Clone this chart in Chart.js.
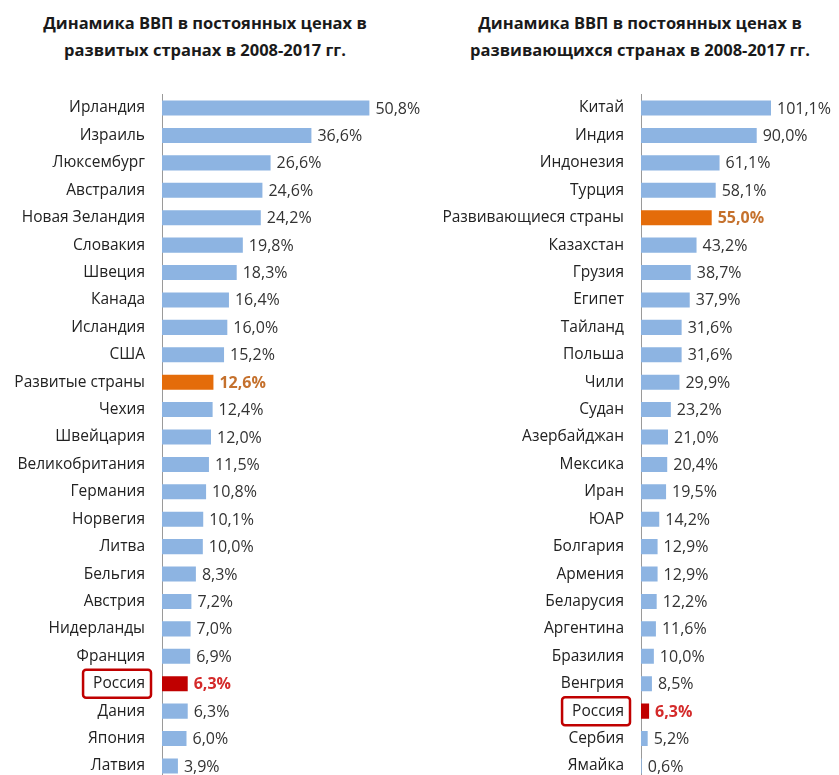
<!DOCTYPE html>
<html lang="ru">
<head>
<meta charset="utf-8">
<title>Динамика ВВП 2008-2017</title>
<script src="https://cdn.jsdelivr.net/npm/chart.js@4.4.1/dist/chart.umd.min.js"></script>
<style>
  html, body { margin: 0; padding: 0; background: #fff; overflow: hidden; }
  body { width: 839px; height: 775px; position: relative; font-family: "Open Sans", sans-serif; }
  .title { position: absolute; top: 9px; font-weight: bold; font-size: 16.5px; line-height: 27px; color: #1a1a1a; text-align: center; }
  #titleLeft { left: 0; width: 410px; }
  #titleRight { left: 430px; width: 420px; }
  /* the y axis adds label padding above and below the plot area, so the boxes start higher */
  .box { position: absolute; top: 68px; height: 738px; }
  #boxLeft { left: 0; width: 420px; }
  #boxRight { left: 420px; width: 419px; }
</style>
</head>
<body>
<div class="title" id="titleLeft">Динамика ВВП в постоянных ценах в<br>развитых странах в 2008-2017 гг.</div>
<div class="title" id="titleRight">Динамика ВВП в постоянных ценах в<br>развивающихся странах в 2008-2017 гг.</div>
<div class="box" id="boxLeft"><canvas id="chartLeft"></canvas></div>
<div class="box" id="boxRight"><canvas id="chartRight"></canvas></div>
<script>
var developedLabels = ['Ирландия', 'Израиль', 'Люксембург', 'Австралия', 'Новая Зеландия', 'Словакия', 'Швеция',
  'Канада', 'Исландия', 'США', 'Развитые страны', 'Чехия', 'Швейцария', 'Великобритания', 'Германия', 'Норвегия',
  'Литва', 'Бельгия', 'Австрия', 'Нидерланды', 'Франция', 'Россия', 'Дания', 'Япония', 'Латвия'];
var developedValues = [50.8, 36.6, 26.6, 24.6, 24.2, 19.8, 18.3, 16.4, 16.0, 15.2, 12.6, 12.4, 12.0, 11.5, 10.8, 10.1,
  10.0, 8.3, 7.2, 7.0, 6.9, 6.3, 6.3, 6.0, 3.9];

var developingLabels = ['Китай', 'Индия', 'Индонезия', 'Турция', 'Развивающиеся страны', 'Казахстан', 'Грузия',
  'Египет', 'Тайланд', 'Польша', 'Чили', 'Судан', 'Азербайджан', 'Мексика', 'Иран', 'ЮАР', 'Болгария', 'Армения',
  'Беларусия', 'Аргентина', 'Бразилия', 'Венгрия', 'Россия', 'Сербия', 'Ямайка'];
var developingValues = [101.1, 90.0, 61.1, 58.1, 55.0, 43.2, 38.7, 37.9, 31.6, 31.6, 29.9, 23.2, 21.0, 20.4, 19.5, 14.2,
  12.9, 12.9, 12.2, 11.6, 10.0, 8.5, 6.3, 5.2, 0.6];

var BLUE = '#8db4e2';
var ORANGE = '#e46c0a';
var RED = '#c00000';
var FONT = '"Open Sans", sans-serif';

function fmt(v) {
  return v.toFixed(1).replace('.', ',') + '%';
}

function barColors(labels, groupName) {
  return labels.map(function(l) {
    if (l === 'Россия') return RED;
    if (l === groupName) return ORANGE;
    return BLUE;
  });
}

// value labels at the end of each bar + red frame round "Россия"
var labelPlugin = {
  id: 'valueLabels',
  afterDatasetsDraw: function(chart, args, opts) {
    var ctx = chart.ctx;
    var meta = chart.getDatasetMeta(0);
    var labels = chart.data.labels;
    var values = chart.data.datasets[0].data;
    ctx.save();
    ctx.textBaseline = 'middle';
    ctx.textAlign = 'left';
    meta.data.forEach(function(bar, i) {
      var name = labels[i];
      var color = '#333';
      var weight = 'normal';
      if (name === 'Россия') { color = '#d42a2a'; weight = 'bold'; }
      else if (name === opts.group) { color = '#c5712d'; weight = 'bold'; }
      ctx.font = weight + ' 16px ' + FONT;
      ctx.fillStyle = color;
      ctx.fillText(fmt(values[i]), bar.x + 6, bar.y + 1);
    });

    var yScale = chart.scales.y;
    var idx = labels.indexOf('Россия');
    if (idx >= 0) {
      ctx.font = '15.5px ' + FONT;
      var w = ctx.measureText('Россия').width;
      var yc = yScale.getPixelForValue(idx);
      var right = yScale.right - 11;
      var left = right - w - 16;
      ctx.strokeStyle = RED;
      ctx.lineWidth = 2.5;
      ctx.beginPath();
      ctx.roundRect(left, yc - 14, right - left, 28, 3);
      ctx.stroke();
    }
    ctx.restore();
  }
};

function makeChart(id, labels, values, groupName, axisWidth, xMax) {
  return new Chart(document.getElementById(id), {
    type: 'bar',
    data: {
      labels: labels,
      datasets: [{
        data: values,
        backgroundColor: barColors(labels, groupName),
        borderWidth: 0,
        barPercentage: 0.55,
        categoryPercentage: 1
      }]
    },
    options: {
      indexAxis: 'y',
      responsive: true,
      maintainAspectRatio: false,
      animation: false,
      layout: { padding: 0 },
      plugins: {
        legend: { display: false },
        tooltip: { enabled: false },
        valueLabels: { group: groupName }
      },
      scales: {
        x: { display: false, min: 0, max: xMax },
        y: {
          grid: { display: false, drawTicks: false },
          border: { display: true, color: '#9a9a9a', width: 1 },
          ticks: { color: '#222', padding: 17, font: { family: FONT, size: 15.5 } },
          afterFit: function(scale) { scale.width = axisWidth; }
        }
      }
    },
    plugins: [labelPlugin]
  });
}

makeChart('chartLeft', developedLabels, developedValues, 'Развитые страны', 162, 63.2);
makeChart('chartRight', developingLabels, developingValues, 'Развивающиеся страны', 221, 154);
</script>
</body>
</html>
